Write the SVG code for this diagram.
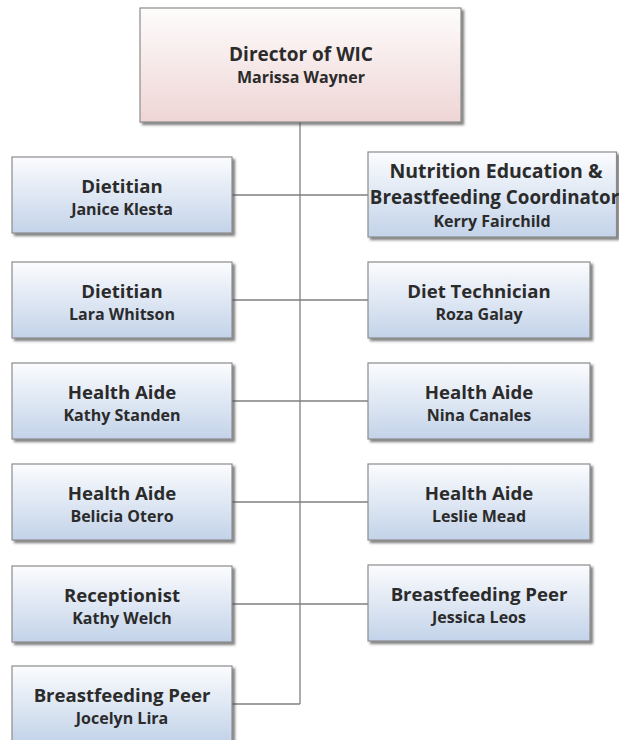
<svg xmlns="http://www.w3.org/2000/svg" width="619" height="740" viewBox="0 0 619 740">
<defs>
<linearGradient id="gBlue" x1="0" y1="0" x2="0" y2="1">
<stop offset="0" stop-color="#fbfcfe"/>
<stop offset="1" stop-color="#c3d3e9"/>
</linearGradient>
<linearGradient id="gPink" x1="0" y1="0" x2="0" y2="1">
<stop offset="0" stop-color="#fefcfc"/>
<stop offset="1" stop-color="#efd5d5"/>
</linearGradient>
<filter id="sh" x="-10%" y="-10%" width="125%" height="130%">
<feDropShadow dx="2.5" dy="2.5" stdDeviation="1.2" flood-color="#4a4a4a" flood-opacity="0.7"/>
</filter>
</defs>
<style>
.box{stroke:#8c8c8c;stroke-width:1.2;filter:url(#sh)}
.blue{fill:url(#gBlue)}
.pink{fill:url(#gPink)}
.t{font-family:"Open Sans","Noto Sans",sans-serif;font-weight:bold;fill:#2b2b2b;text-anchor:middle}
.h{font-size:18.6px}
.n{font-size:16px}
.c{fill:none;stroke:#7f7f7f;stroke-width:1.3}
</style>
<g id="connectors">
<line class="c" x1="300" y1="122" x2="300" y2="704"/>
<line class="c" x1="232" y1="195" x2="368" y2="195"/>
<line class="c" x1="232" y1="300" x2="368" y2="300"/>
<line class="c" x1="232" y1="401" x2="368" y2="401"/>
<line class="c" x1="232" y1="502" x2="368" y2="502"/>
<line class="c" x1="232" y1="604" x2="368" y2="604"/>
<line class="c" x1="232" y1="704" x2="300" y2="704"/>
</g>
<g id="director">
<rect class="box pink" x="140" y="8" width="321" height="114"/>
<text class="t" x="301" y="61" style="font-size:19px">Director of WIC</text>
<text class="t n" x="301" y="83">Marissa Wayner</text>
</g>
<g id="dietitian1">
<rect class="box blue" x="12" y="157" width="220" height="76"/>
<text class="t h" x="122" y="193">Dietitian</text>
<text class="t n" x="122" y="215">Janice Klesta</text>
</g>
<g id="coordinator">
<rect class="box blue" x="368" y="152" width="248.5" height="85"/>
<text class="t" x="496" y="178" style="font-size:19.5px">Nutrition Education &amp;</text>
<text class="t" x="494.5" y="204" style="font-size:18.8px">Breastfeeding Coordinator</text>
<text class="t n" x="492" y="227">Kerry Fairchild</text>
</g>
<g id="dietitian2">
<rect class="box blue" x="12" y="262" width="220" height="76"/>
<text class="t h" x="122" y="298">Dietitian</text>
<text class="t n" x="122" y="320">Lara Whitson</text>
</g>
<g id="diettech">
<rect class="box blue" x="368" y="262" width="222" height="76"/>
<text class="t h" x="479" y="298">Diet Technician</text>
<text class="t n" x="479" y="320">Roza Galay</text>
</g>
<g id="aide1">
<rect class="box blue" x="12" y="363" width="220" height="76"/>
<text class="t h" x="122" y="399">Health Aide</text>
<text class="t n" x="122" y="421">Kathy Standen</text>
</g>
<g id="aide2">
<rect class="box blue" x="368" y="363" width="222" height="76"/>
<text class="t h" x="479" y="399">Health Aide</text>
<text class="t n" x="479" y="421">Nina Canales</text>
</g>
<g id="aide3">
<rect class="box blue" x="12" y="464" width="220" height="76"/>
<text class="t h" x="122" y="500">Health Aide</text>
<text class="t n" x="122" y="522">Belicia Otero</text>
</g>
<g id="aide4">
<rect class="box blue" x="368" y="464" width="222" height="76"/>
<text class="t h" x="479" y="500">Health Aide</text>
<text class="t n" x="479" y="522">Leslie Mead</text>
</g>
<g id="receptionist">
<rect class="box blue" x="12" y="566" width="220" height="76"/>
<text class="t h" x="122" y="602">Receptionist</text>
<text class="t n" x="122" y="624">Kathy Welch</text>
</g>
<g id="peer1">
<rect class="box blue" x="368" y="565" width="222" height="76"/>
<text class="t h" x="479" y="601">Breastfeeding Peer</text>
<text class="t n" x="479" y="623">Jessica Leos</text>
</g>
<g id="peer2">
<rect class="box blue" x="12" y="666" width="220" height="76"/>
<text class="t h" x="122" y="702">Breastfeeding Peer</text>
<text class="t n" x="122" y="724">Jocelyn Lira</text>
</g>
</svg>
